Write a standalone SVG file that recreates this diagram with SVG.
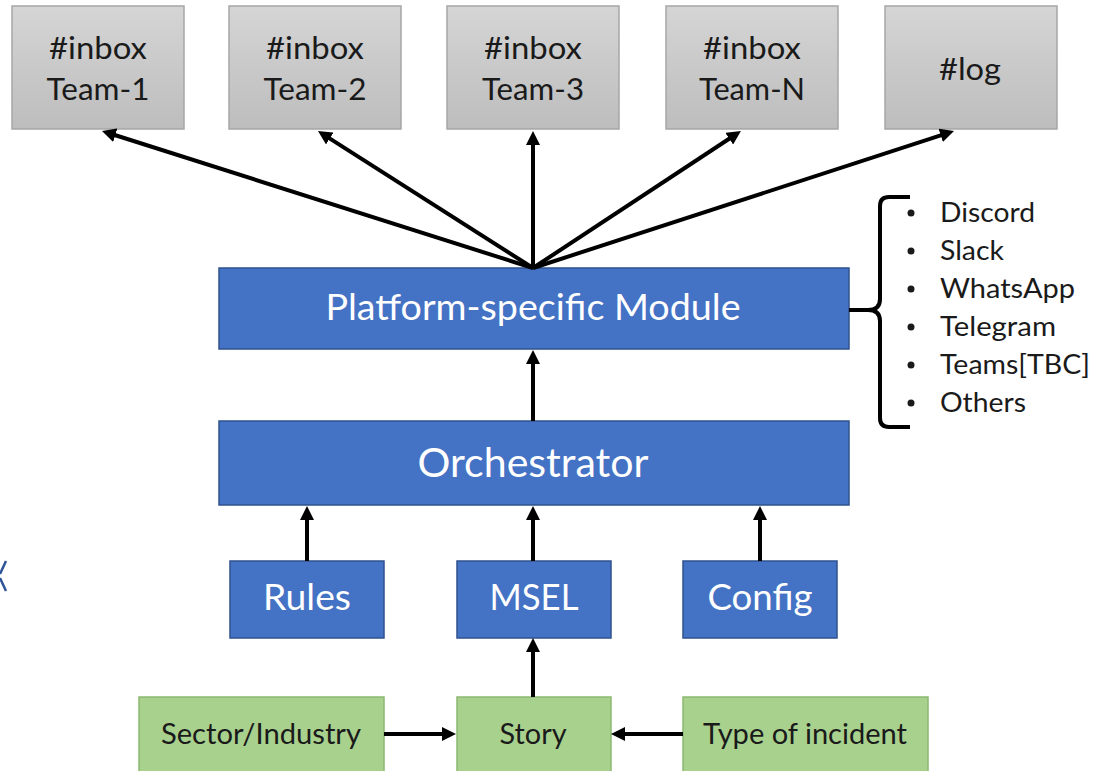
<svg xmlns="http://www.w3.org/2000/svg" width="1101" height="771" viewBox="0 0 1101 771">
<defs>
<linearGradient id="gray" x1="0" y1="0" x2="0" y2="1">
<stop offset="0" stop-color="#d5d5d5"/>
<stop offset="1" stop-color="#bdbdbd"/>
</linearGradient>
<marker id="ah" markerUnits="userSpaceOnUse" markerWidth="16" markerHeight="14" refX="4" refY="7" orient="auto">
<path d="M0,0 L14,7 L0,14 z" fill="#000"/>
</marker>
<style>
.gbox{fill:url(#gray);stroke:#a6a6a6;stroke-width:1.5}
.bbox{fill:#4472c4;stroke:#2f528f;stroke-width:1.5}
.grn{fill:#a9d18e;stroke:#8cb870;stroke-width:1.5}
.t{font-family:Lato,"Open Sans",sans-serif;text-anchor:middle}
.tg{font-size:31px;fill:#1a1a1a}
.tw{fill:#ffffff}
.tk{font-size:28px;fill:#1a1a1a}
.li{font-family:Lato,"Open Sans",sans-serif;font-size:27px;fill:#1a1a1a}
.c{stroke:#000;stroke-width:4;fill:none;marker-end:url(#ah)}
</style>
</defs>
<rect width="1101" height="771" fill="#ffffff"/>
<path d="M6,561 L0,574 M0,578 L6,591" fill="none" stroke="#2f5597" stroke-width="2.5"/>

<g id="team1"><rect class="gbox" x="12" y="6" width="172" height="123"/><text class="t tg" x="98" y="59" textLength="98" lengthAdjust="spacingAndGlyphs">#inbox</text><text class="t tg" x="98" y="100" textLength="103" lengthAdjust="spacingAndGlyphs">Team-1</text></g>
<g id="team2"><rect class="gbox" x="229" y="6" width="172" height="123"/><text class="t tg" x="315" y="59" textLength="98" lengthAdjust="spacingAndGlyphs">#inbox</text><text class="t tg" x="315" y="100" textLength="103" lengthAdjust="spacingAndGlyphs">Team-2</text></g>
<g id="team3"><rect class="gbox" x="447" y="6" width="172" height="123"/><text class="t tg" x="533" y="59" textLength="98" lengthAdjust="spacingAndGlyphs">#inbox</text><text class="t tg" x="533" y="100" textLength="102" lengthAdjust="spacingAndGlyphs">Team-3</text></g>
<g id="teamN"><rect class="gbox" x="666" y="6" width="172" height="123"/><text class="t tg" x="752" y="59" textLength="98" lengthAdjust="spacingAndGlyphs">#inbox</text><text class="t tg" x="752" y="100" textLength="106" lengthAdjust="spacingAndGlyphs">Team-N</text></g>
<g id="log"><rect class="gbox" x="885" y="6" width="172" height="123"/><text class="t tg" x="970" y="80" textLength="62" lengthAdjust="spacingAndGlyphs">#log</text></g>

<g id="platform"><rect class="bbox" x="219" y="268" width="630" height="81"/><text class="t tw" x="533" y="320" font-size="37" textLength="415" lengthAdjust="spacingAndGlyphs">Platform-specific Module</text></g>
<g id="orchestrator"><rect class="bbox" x="219" y="421" width="630" height="84"/><text class="t tw" x="533" y="477" font-size="40" textLength="231" lengthAdjust="spacingAndGlyphs">Orchestrator</text></g>
<g id="rules"><rect class="bbox" x="230" y="561" width="154" height="77"/><text class="t tw" x="307" y="610" font-size="36" textLength="88" lengthAdjust="spacingAndGlyphs">Rules</text></g>
<g id="msel"><rect class="bbox" x="457" y="561" width="154" height="77"/><text class="t tw" x="534" y="610" font-size="36" textLength="89" lengthAdjust="spacingAndGlyphs">MSEL</text></g>
<g id="config"><rect class="bbox" x="683" y="561" width="154" height="77"/><text class="t tw" x="760" y="610" font-size="36" textLength="105" lengthAdjust="spacingAndGlyphs">Config</text></g>

<g id="sector"><rect class="grn" x="139" y="697" width="245" height="80"/><text class="t tk" x="261" y="744" textLength="200" lengthAdjust="spacingAndGlyphs">Sector/Industry</text></g>
<g id="story"><rect class="grn" x="457" y="697" width="154" height="80"/><text class="t tk" x="533" y="744" textLength="67" lengthAdjust="spacingAndGlyphs">Story</text></g>
<g id="incident"><rect class="grn" x="683" y="697" width="245" height="80"/><text class="t tk" x="805" y="744" textLength="204" lengthAdjust="spacingAndGlyphs">Type of incident</text></g>

<g id="platforms-list">
<path d="M910,197 L889,197 Q880,197 880,206 L880,299 Q880,310 868,310 L849,310 M868,310 Q880,310 880,321 L880,418 Q880,427 889,427 L910,427" fill="none" stroke="#000" stroke-width="4"/>
<g fill="#1a1a1a"><circle cx="911" cy="213" r="3.5"/><circle cx="911" cy="251" r="3.5"/><circle cx="911" cy="289" r="3.5"/><circle cx="911" cy="327" r="3.5"/><circle cx="911" cy="365" r="3.5"/><circle cx="911" cy="403" r="3.5"/></g>
<text class="li" x="940" y="222" textLength="95" lengthAdjust="spacingAndGlyphs">Discord</text>
<text class="li" x="940" y="260" textLength="64" lengthAdjust="spacingAndGlyphs">Slack</text>
<text class="li" x="940" y="298" textLength="135" lengthAdjust="spacingAndGlyphs">WhatsApp</text>
<text class="li" x="940" y="336" textLength="116" lengthAdjust="spacingAndGlyphs">Telegram</text>
<text class="li" x="940" y="374" textLength="150" lengthAdjust="spacingAndGlyphs">Teams[TBC]</text>
<text class="li" x="940" y="412" textLength="86" lengthAdjust="spacingAndGlyphs">Others</text>
</g>

<g id="connectors">
<line class="c" x1="533" y1="268" x2="111.5" y2="134"/>
<line class="c" x1="533" y1="268" x2="326.4" y2="136.4"/>
<line class="c" x1="533" y1="268" x2="533" y2="141"/>
<line class="c" x1="533" y1="268" x2="732.6" y2="136.5"/>
<line class="c" x1="533" y1="268" x2="944.5" y2="134.1"/>
<line class="c" x1="533" y1="421" x2="533" y2="360"/>
<line class="c" x1="307" y1="561" x2="307" y2="516"/>
<line class="c" x1="533" y1="561" x2="533" y2="516"/>
<line class="c" x1="760" y1="561" x2="760" y2="516"/>
<line class="c" x1="533" y1="697" x2="533" y2="648"/>
<line class="c" x1="384" y1="734" x2="446" y2="734"/>
<line class="c" x1="683" y1="734" x2="621" y2="734"/>
</g>
</svg>
